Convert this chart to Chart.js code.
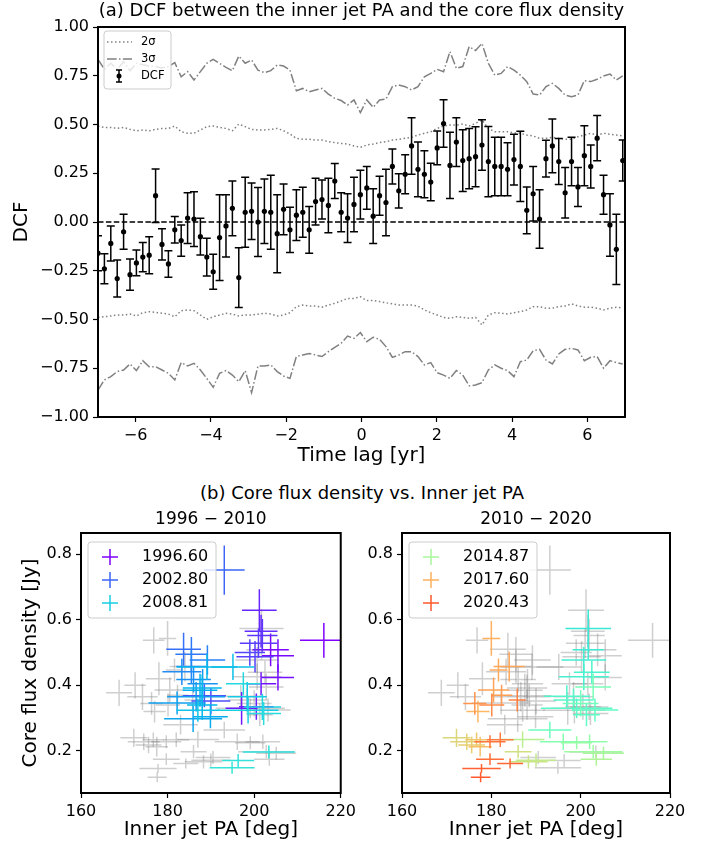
<!DOCTYPE html>
<html>
<head>
<meta charset="utf-8">
<script src="https://cdn.jsdelivr.net/npm/chart.js@4.4.1/dist/chart.umd.min.js"></script>
<style>
  body { margin: 0; background: #fff; }
  #fig { position: relative; width: 711px; height: 845px; font-family: "DejaVu Sans", sans-serif; }
  #fig canvas { position: absolute; }
  #titleB { position: absolute; left: 0; top: 482px; width: 724px; text-align: center; font-size: 18px; line-height: 22px; color: #000; }
</style>
</head>
<body>
<div id="fig">
  <canvas id="dcfChart" width="711" height="470" style="left:0;top:0"></canvas>
  <div id="titleB">(b) Core flux density vs. Inner jet PA</div>
  <canvas id="panelEarly" width="360" height="345" style="left:0;top:500px"></canvas>
  <canvas id="panelLate" width="351" height="345" style="left:360px;top:500px"></canvas>
</div>
<script>
// ───── (a) DCF data ─────
const dcfLag = [
  -7.00,-6.83,-6.66,-6.49,-6.32,-6.15,-5.98,-5.81,-5.64,-5.47,
  -5.30,-5.13,-4.96,-4.79,-4.62,-4.45,-4.28,-4.11,-3.94,-3.77,
  -3.60,-3.43,-3.26,-3.09,-2.92,-2.75,-2.58,-2.41,-2.24,-2.07,
  -1.90,-1.73,-1.56,-1.39,-1.22,-1.05,-0.88,-0.71,-0.54,-0.37,
  -0.20,-0.03,0.14,0.31,0.48,0.65,0.82,0.99,1.16,1.33,
  1.50,1.67,1.84,2.01,2.18,2.35,2.52,2.69,2.86,3.03,
  3.20,3.37,3.54,3.71,3.88,4.05,4.22,4.39,4.56,4.73,
  4.90,5.07,5.24,5.41,5.58,5.75,5.92,6.09,6.26,6.43,
  6.60,6.77,6.94
];
const dcfValue = [
  -0.16,-0.24,-0.11,-0.29,-0.05,-0.27,-0.21,-0.18,-0.17,0.135,
  -0.115,-0.215,-0.04,-0.095,0.02,0.015,-0.075,-0.18,-0.255,-0.08,
  -0.02,0.07,-0.285,0.05,0.055,0.0,0.055,0.05,-0.06,0.065,
  -0.04,0.035,0.05,-0.04,0.105,0.115,0.085,0.21,0.05,0.02,
  0.09,0.14,0.175,0.03,0.135,0.1,0.285,0.16,0.245,0.39,
  0.27,0.245,0.205,0.38,0.505,0.29,0.41,0.315,0.325,0.335,
  0.395,0.31,0.285,0.285,0.27,0.32,0.285,0.06,0.145,0.015,
  0.325,0.39,0.31,0.15,0.31,0.18,0.34,0.285,0.43,0.14,
  -0.015,-0.14,0.315
];
const dcfError = [
  0.09,0.077,0.09,0.095,0.09,0.08,0.066,0.075,0.095,0.137,
  0.08,0.068,0.068,0.08,0.13,0.14,0.094,0.097,0.09,0.22,
  0.16,0.14,0.153,0.18,0.145,0.177,0.165,0.19,0.2,0.13,
  0.116,0.13,0.128,0.12,0.12,0.1,0.14,0.09,0.1,0.125,
  0.14,0.125,0.11,0.14,0.1,0.17,0.09,0.088,0.1,0.145,
  0.14,0.12,0.096,0.087,0.122,0.17,0.125,0.158,0.154,0.154,
  0.13,0.18,0.15,0.15,0.136,0.13,0.18,0.12,0.14,0.15,
  0.094,0.138,0.118,0.13,0.124,0.1,0.154,0.11,0.116,0.1,
  0.16,0.18,0.105
];
const sigma2Upper = [
  0.492,0.485,0.485,0.48,0.485,0.475,0.468,0.472,0.468,0.475,
  0.48,0.48,0.492,0.463,0.455,0.455,0.472,0.489,0.492,0.485,
  0.48,0.468,0.502,0.489,0.475,0.472,0.472,0.475,0.48,0.468,
  0.451,0.429,0.424,0.424,0.42,0.42,0.412,0.407,0.403,0.4,
  0.39,0.383,0.395,0.4,0.407,0.412,0.42,0.424,0.429,0.434,
  0.446,0.455,0.463,0.48,0.492,0.497,0.497,0.502,0.492,0.506,
  0.523,0.48,0.463,0.463,0.463,0.458,0.455,0.446,0.441,0.429,
  0.429,0.434,0.429,0.424,0.424,0.437,0.446,0.455,0.446,0.455,
  0.45,0.446,0.441
];
const sigma2Lower = [
  -0.489,-0.486,-0.482,-0.477,-0.477,-0.472,-0.482,-0.465,-0.46,-0.463,
  -0.468,-0.472,-0.486,-0.455,-0.451,-0.455,-0.477,-0.499,-0.486,-0.477,
  -0.468,-0.472,-0.482,-0.477,-0.477,-0.473,-0.468,-0.472,-0.482,-0.477,
  -0.465,-0.434,-0.426,-0.431,-0.431,-0.437,-0.426,-0.417,-0.405,-0.392,
  -0.392,-0.383,-0.403,-0.403,-0.408,-0.414,-0.42,-0.426,-0.426,-0.426,
  -0.431,-0.451,-0.465,-0.477,-0.489,-0.494,-0.486,-0.489,-0.494,-0.489,
  -0.528,-0.477,-0.465,-0.468,-0.472,-0.465,-0.46,-0.451,-0.434,-0.434,
  -0.442,-0.442,-0.434,-0.431,-0.42,-0.431,-0.437,-0.437,-0.442,-0.451,
  -0.442,-0.437,-0.442
];
const sigma3Upper = [
  0.834,0.783,0.814,0.783,0.822,0.776,0.814,0.806,0.8,0.797,
  0.79,0.797,0.817,0.745,0.771,0.728,0.771,0.814,0.834,0.814,
  0.793,0.776,0.851,0.814,0.831,0.779,0.766,0.776,0.805,0.8,
  0.779,0.673,0.685,0.668,0.677,0.685,0.656,0.634,0.623,0.6,
  0.626,0.561,0.626,0.588,0.626,0.63,0.694,0.703,0.694,0.677,
  0.694,0.745,0.762,0.783,0.771,0.874,0.788,0.797,0.899,0.879,
  0.916,0.814,0.753,0.762,0.797,0.779,0.753,0.72,0.656,0.651,
  0.694,0.711,0.685,0.651,0.643,0.651,0.725,0.72,0.732,0.749,
  0.759,0.728,0.749
];
const sigma3Lower = [
  -0.862,-0.81,-0.793,-0.767,-0.759,-0.728,-0.762,-0.711,-0.742,-0.742,
  -0.759,-0.776,-0.81,-0.721,-0.738,-0.725,-0.759,-0.802,-0.848,-0.776,
  -0.762,-0.785,-0.819,-0.762,-0.875,-0.738,-0.738,-0.733,-0.767,-0.79,
  -0.802,-0.69,-0.682,-0.674,-0.682,-0.69,-0.665,-0.643,-0.622,-0.585,
  -0.597,-0.567,-0.614,-0.591,-0.602,-0.639,-0.694,-0.682,-0.665,-0.665,
  -0.69,-0.733,-0.721,-0.773,-0.785,-0.802,-0.762,-0.785,-0.84,-0.836,
  -0.824,-0.759,-0.733,-0.75,-0.762,-0.793,-0.716,-0.708,-0.66,-0.653,
  -0.708,-0.728,-0.677,-0.653,-0.648,-0.656,-0.711,-0.694,-0.69,-0.75,
  -0.711,-0.721,-0.728
];
const dcfXTicks = [-6, -4, -2, 0, 2, 4, 6];
const dcfYTicks = [-1, -0.75, -0.5, -0.25, 0, 0.25, 0.5, 0.75, 1];

// ───── (b) core flux vs inner jet PA, one row per epoch ─────
const jetEpoch = [
  1996.60,1996.9,1997.2,1997.5,1997.8,1998.1,1998.5,1998.9,1999.3,1999.7,
  2000.1,2000.5,2000.9,2001.4,2002.0,2002.80,2003.3,2003.7,2004.1,2004.4,
  2004.7,2005.0,2005.3,2005.6,2005.9,2006.2,2006.5,2006.8,2007.1,2007.3,
  2007.5,2007.8,2008.1,2008.5,2008.81,2009.1,2009.3,2009.5,2009.7,2009.85,
  2009.95,
  2010.2,2010.4,2010.6,2010.8,2011.0,2011.2,2011.4,2011.6,2011.8,2012.0,
  2012.3,2012.6,2012.9,2013.4,2013.8,2014.1,2014.5,2014.87,2015.1,2015.4,
  2015.7,2015.9,2016.1,2016.4,2016.6,2016.8,2017.0,2017.2,2017.4,2017.60,
  2017.8,2017.95,2018.1,2018.3,2018.6,2018.9,2019.2,2019.4,2019.6,2019.8,
  2020.0,2020.2,2020.43,
  2021.0,2021.3,2021.6,2021.9,2022.2,2022.5,2022.8
];
const jetPA = [
  216.1,203.8,205.5,205.5,201.6,197.1,200.5,201.2,201.6,201.9,
  201.0,200.2,199.0,190.0,188.5,193.1,183.7,185.5,189.2,185.5,
  183.3,186.0,188.1,186.6,182.2,185.9,189.9,187.5,188.0,188.0,
  189.1,195.1,187.0,198.4,198.6,201.9,197.5,202.2,203.4,196.3,
  194.9,
  201.7,201.7,200.7,200.7,202.5,196.9,198.4,199.1,201.3,203.2,
  193.1,200.0,202.8,196.1,202.0,199.1,202.8,205.1,203.5,187.0,
  190.0,188.3,186.0,172.2,174.5,175.6,176.7,177.5,177.0,180.0,
  181.6,184.0,180.5,182.3,176.3,180.1,185.8,182.0,179.7,179.7,
  184.2,177.8,177.6,
  168.8,172.5,174.2,176.8,178.0,183.0,190.5
];
const jetPAErr = [
  5.5,4.2,3.7,3.7,3.5,3.7,4.0,4.0,3.8,3.5,
  4.3,4.3,3.5,4.5,5.0,4.7,4.0,3.7,4.1,3.5,
  4.5,4.0,3.5,6.7,6.6,6.7,4.0,4.0,3.5,4.5,
  7.0,5.0,5.0,4.5,7.0,4.3,4.0,4.0,6.0,3.7,
  5.2,
  5.1,3.5,5.0,5.6,4.0,5.2,4.5,8.0,3.0,5.2,
  4.8,4.0,4.0,5.2,4.0,3.5,6.5,4.6,3.5,4.9,
  4.5,4.3,3.0,3.1,3.7,3.0,2.5,2.6,2.6,2.0,
  2.0,3.5,3.5,2.4,2.6,2.8,1.9,3.0,3.5,3.1,
  2.9,4.3,2.2,
  3.0,2.5,3.5,2.5,3.0,4.0,4.0
];
const coreFlux = [
  0.537,0.508,0.490,0.424,0.405,0.330,0.335,0.629,0.565,0.552,
  0.528,0.487,0.500,0.352,0.368,0.751,0.510,0.495,0.477,0.457,
  0.441,0.418,0.405,0.365,0.346,0.298,0.304,0.385,0.340,0.392,
  0.456,0.456,0.324,0.365,0.324,0.334,0.405,0.314,0.197,0.171,
  0.149,
  0.573,0.508,0.477,0.426,0.440,0.367,0.355,0.330,0.310,0.325,
  0.264,0.345,0.395,0.228,0.228,0.225,0.198,0.193,0.175,0.235,
  0.172,0.167,0.198,0.240,0.228,0.218,0.234,0.213,0.320,0.543,
  0.447,0.457,0.386,0.370,0.345,0.340,0.355,0.234,0.228,0.175,
  0.162,0.147,0.120,
  0.377,0.400,0.365,0.537,0.420,0.280,0.180
];
const coreFluxErr = [
  0.053,0.05,0.05,0.04,0.035,0.05,0.04,0.064,0.05,0.05,
  0.045,0.048,0.04,0.04,0.035,0.075,0.05,0.052,0.045,0.05,
  0.04,0.04,0.045,0.045,0.035,0.04,0.035,0.05,0.045,0.04,
  0.04,0.04,0.035,0.045,0.04,0.04,0.035,0.035,0.02,0.02,
  0.018,
  0.058,0.03,0.04,0.04,0.035,0.033,0.035,0.03,0.035,0.035,
  0.025,0.04,0.04,0.025,0.022,0.02,0.02,0.02,0.02,0.025,
  0.02,0.02,0.02,0.028,0.025,0.025,0.022,0.03,0.033,0.053,
  0.035,0.045,0.038,0.032,0.035,0.035,0.035,0.022,0.02,0.018,
  0.015,0.013,0.015,
  0.04,0.04,0.04,0.04,0.05,0.03,0.02
];
const periodEarly = [1996, 2010];
const periodLate = [2010, 2020.5];
const legendEpochEarly = [1996.60, 2002.80, 2008.81];
const legendEpochLate = [2014.87, 2017.60, 2020.43];
const fluxXTicks = [160, 180, 200, 220];
const fluxYTicks = [0.2, 0.4, 0.6, 0.8];

// epoch -> position in the rainbow colour map (observation index based)
const cmapEpochs = [1996.6, 2002.8, 2008.81, 2014.87, 2017.6, 2020.43, 2022.9];
const cmapPos    = [0, 0.13, 0.30, 0.58, 0.757, 0.886, 1];

Chart.defaults.font.family = "'DejaVu Sans', sans-serif";
Chart.defaults.color = "#000";

function rainbow(t) {
  const r = Math.min(1, Math.abs(2 * t - 0.5));
  const g = Math.sin(Math.PI * t);
  const b = Math.cos(Math.PI * t / 2);
  return `rgb(${Math.round(r * 255)},${Math.round(g * 255)},${Math.round(b * 255)})`;
}

function epochColor(ep) {
  if (ep <= cmapEpochs[0]) return rainbow(0);
  for (let k = 1; k < cmapEpochs.length; k++) {
    if (ep <= cmapEpochs[k]) {
      const f = (ep - cmapEpochs[k - 1]) / (cmapEpochs[k] - cmapEpochs[k - 1]);
      return rainbow(cmapPos[k - 1] + f * (cmapPos[k] - cmapPos[k - 1]));
    }
  }
  return rainbow(1);
}

const fmtMinus = s => String(s).replace("-", "\u2212");

function roundRect(ctx, x, y, w, h, r) {
  ctx.beginPath();
  ctx.moveTo(x + r, y);
  ctx.arcTo(x + w, y, x + w, y + h, r);
  ctx.arcTo(x + w, y + h, x, y + h, r);
  ctx.arcTo(x, y + h, x, y, r);
  ctx.arcTo(x, y, x + w, y, r);
  ctx.closePath();
}

// ───── plugins ─────
const framePlugin = {
  id: "frame",
  afterDraw(chart) {
    const { ctx, chartArea: a } = chart;
    ctx.save();
    ctx.strokeStyle = "#000";
    ctx.lineWidth = 2;
    ctx.strokeRect(a.left, a.top, a.right - a.left, a.bottom - a.top);
    ctx.restore();
  }
};

const errorBarPlugin = {
  id: "errorBars",
  beforeDatasetDraw(chart, args) {
    const ds = chart.data.datasets[args.index];
    if (!ds.yErr) return;
    const { ctx, chartArea: a, scales: { x, y } } = chart;
    ctx.save();
    ctx.beginPath();
    ctx.rect(a.left, a.top, a.right - a.left, a.bottom - a.top);
    ctx.clip();
    ctx.strokeStyle = "#000";
    ctx.lineWidth = 1.5;
    ds.data.forEach((p, i) => {
      const px = x.getPixelForValue(p.x);
      const lo = y.getPixelForValue(p.y - ds.yErr[i]);
      const hi = y.getPixelForValue(p.y + ds.yErr[i]);
      ctx.beginPath();
      ctx.moveTo(px, lo); ctx.lineTo(px, hi);
      ctx.moveTo(px - 4, lo); ctx.lineTo(px + 4, lo);
      ctx.moveTo(px - 4, hi); ctx.lineTo(px + 4, hi);
      ctx.stroke();
    });
    ctx.restore();
  }
};

const dcfLegendPlugin = {
  id: "dcfLegend",
  afterDraw(chart) {
    const { ctx, chartArea: a } = chart;
    const bx = a.left + 6, by = a.top + 4;
    ctx.save();
    roundRect(ctx, bx, by, 67, 58, 3);
    ctx.fillStyle = "rgba(255,255,255,0.8)";
    ctx.fill();
    ctx.strokeStyle = "#cccccc";
    ctx.lineWidth = 1;
    ctx.stroke();

    ctx.strokeStyle = "gray";
    ctx.lineWidth = 1.5;
    ctx.setLineDash([1.5, 2.5]);
    ctx.beginPath(); ctx.moveTo(bx + 3, by + 11); ctx.lineTo(bx + 28, by + 11); ctx.stroke();
    ctx.setLineDash([9.6, 2.4, 1.5, 2.4]);
    ctx.beginPath(); ctx.moveTo(bx + 3, by + 28); ctx.lineTo(bx + 28, by + 28); ctx.stroke();
    ctx.setLineDash([]);

    const ex = bx + 15, ey = by + 45;
    ctx.strokeStyle = "#000";
    ctx.beginPath();
    ctx.moveTo(ex, ey - 6); ctx.lineTo(ex, ey + 6);
    ctx.moveTo(ex - 3, ey - 6); ctx.lineTo(ex + 3, ey - 6);
    ctx.moveTo(ex - 3, ey + 6); ctx.lineTo(ex + 3, ey + 6);
    ctx.stroke();
    ctx.fillStyle = "#000";
    ctx.beginPath(); ctx.arc(ex, ey, 2.5, 0, Math.PI * 2); ctx.fill();

    ctx.font = "11.5px 'DejaVu Sans'";
    ctx.textBaseline = "middle";
    ctx.fillText("2\u03c3", bx + 37, by + 11);
    ctx.fillText("3\u03c3", bx + 37, by + 28);
    ctx.fillText("DCF", bx + 37, by + 45);
    ctx.restore();
  }
};

const crossPlugin = {
  id: "crosses",
  afterDatasetsDraw(chart) {
    const { ctx, chartArea: a, scales: { x, y } } = chart;
    ctx.save();
    ctx.beginPath();
    ctx.rect(a.left, a.top, a.right - a.left, a.bottom - a.top);
    ctx.clip();
    ctx.lineWidth = 1.5;
    chart.data.datasets.forEach(ds => {
      ds.data.forEach((p, i) => {
        const px = x.getPixelForValue(p.x), py = y.getPixelForValue(p.y);
        ctx.strokeStyle = ds.crossColors[i];
        ctx.beginPath();
        ctx.moveTo(x.getPixelForValue(p.x - ds.xErr[i]), py);
        ctx.lineTo(x.getPixelForValue(p.x + ds.xErr[i]), py);
        ctx.moveTo(px, y.getPixelForValue(p.y - ds.yErr[i]));
        ctx.lineTo(px, y.getPixelForValue(p.y + ds.yErr[i]));
        ctx.stroke();
      });
    });
    ctx.restore();
  }
};

function epochLegendPlugin(epochs) {
  return {
    id: "epochLegend",
    afterDraw(chart) {
      const { ctx, chartArea: a } = chart;
      const bx = a.left + 7, by = a.top + 9;
      ctx.save();
      roundRect(ctx, bx, by, 128, 76, 3);
      ctx.fillStyle = "rgba(255,255,255,0.8)";
      ctx.fill();
      ctx.strokeStyle = "#cccccc";
      ctx.lineWidth = 1;
      ctx.stroke();
      ctx.font = "16px 'DejaVu Sans'";
      ctx.textBaseline = "middle";
      ctx.lineWidth = 1.5;
      epochs.forEach((ep, k) => {
        const cy = by + 15 + k * 23, cx = bx + 22;
        ctx.strokeStyle = epochColor(ep);
        ctx.beginPath();
        ctx.moveTo(cx - 8, cy); ctx.lineTo(cx + 8, cy);
        ctx.moveTo(cx, cy - 8); ctx.lineTo(cx, cy + 8);
        ctx.stroke();
        ctx.fillStyle = "#000";
        ctx.fillText(ep.toFixed(2), bx + 54, cy);
      });
      ctx.restore();
    }
  };
}

// ───── (a) DCF chart ─────
const toPoints = (xs, ys) => xs.map((v, i) => ({ x: v, y: ys[i] }));
const sigmaLine = (ys, dash) => ({
  data: toPoints(dcfLag, ys), showLine: true, borderColor: "gray", borderWidth: 1.5,
  borderDash: dash, pointRadius: 0, order: 2
});

new Chart(document.getElementById("dcfChart"), {
  type: "scatter",
  data: {
    datasets: [
      { data: toPoints(dcfLag, dcfValue), yErr: dcfError, pointRadius: 2.6,
        backgroundColor: "#000", borderWidth: 0, order: 0 },
      { data: [{ x: -7, y: 0 }, { x: 7, y: 0 }], showLine: true, borderColor: "#000",
        borderWidth: 1.5, borderDash: [5.5, 2.4], pointRadius: 0, order: 1 },
      sigmaLine(sigma2Upper, [1.5, 2.5]),
      sigmaLine(sigma2Lower, [1.5, 2.5]),
      sigmaLine(sigma3Upper, [9.6, 2.4, 1.5, 2.4]),
      sigmaLine(sigma3Lower, [9.6, 2.4, 1.5, 2.4])
    ]
  },
  options: {
    responsive: false, animation: false, events: [],
    layout: { padding: { left: 0, right: 86, top: 0, bottom: 0 } },
    plugins: {
      legend: { display: false }, tooltip: { enabled: false },
      title: { display: true, fullSize: false,
        text: "(a) DCF between the inner jet PA and the core flux density",
        font: { size: 18, weight: "normal", lineHeight: 1.2 }, padding: { top: 1, bottom: 4.4 }, color: "#000" }
    },
    scales: {
      x: { type: "linear", min: -7, max: 7,
        afterBuildTicks: s => { s.ticks = dcfXTicks.map(v => ({ value: v })); },
        afterFit: s => { s.height = 53; },
        grid: { drawOnChartArea: false, drawTicks: true, tickLength: 5, tickColor: "#000", tickWidth: 1.2 },
        border: { display: false },
        ticks: { font: { size: 16 }, padding: 4, maxRotation: 0, callback: v => fmtMinus(v) },
        title: { display: true, text: "Time lag [yr]", font: { size: 20 }, padding: { top: 0, bottom: 2 } } },
      y: { min: -1, max: 1,
        afterBuildTicks: s => { s.ticks = dcfYTicks.map(v => ({ value: v })); },
        afterFit: s => { s.width = 98; },
        grid: { drawOnChartArea: false, drawTicks: true, tickLength: 5, tickColor: "#000", tickWidth: 1.2 },
        border: { display: false },
        ticks: { font: { size: 16 }, padding: 4, callback: v => fmtMinus(v.toFixed(2)) },
        title: { display: true, text: "DCF", font: { size: 20 }, padding: { top: 10, bottom: 0 } } }
    }
  },
  plugins: [errorBarPlugin, framePlugin, dcfLegendPlugin]
});

// ───── (b) flux–PA panels ─────
function panelDatasets(period) {
  const gray = { data: [], xErr: [], yErr: [], crossColors: [], pointRadius: 0 };
  const col  = { data: [], xErr: [], yErr: [], crossColors: [], pointRadius: 0 };
  jetEpoch.forEach((ep, i) => {
    const inside = ep >= period[0] && ep < period[1];
    const ds = inside ? col : gray;
    ds.data.push({ x: jetPA[i], y: coreFlux[i] });
    ds.xErr.push(jetPAErr[i]);
    ds.yErr.push(coreFluxErr[i]);
    ds.crossColors.push(inside ? epochColor(ep) : "rgba(128,128,128,0.38)");
  });
  return [gray, col];
}

function makePanel(id, period, legendEpochs, title, yAxisWidth, rightPad, showYTitle) {
  new Chart(document.getElementById(id), {
    type: "scatter",
    data: { datasets: panelDatasets(period) },
    options: {
      responsive: false, animation: false, events: [],
      layout: { padding: { left: 0, right: rightPad, top: 0, bottom: 0 } },
      plugins: {
        legend: { display: false }, tooltip: { enabled: false },
        title: { display: true, fullSize: false, text: title,
          font: { size: 17, weight: "normal", lineHeight: 1.2 }, padding: { top: 9, bottom: 3.6 }, color: "#000" }
      },
      scales: {
        x: { type: "linear", min: 160, max: 220,
          afterBuildTicks: s => { s.ticks = fluxXTicks.map(v => ({ value: v })); },
          afterFit: s => { s.height = 52; },
          grid: { drawOnChartArea: false, drawTicks: true, tickLength: 5, tickColor: "#000", tickWidth: 1.2 },
          border: { display: false },
          ticks: { font: { size: 16 }, padding: 4, maxRotation: 0, callback: v => String(v) },
          title: { display: true, text: "Inner jet PA [deg]", font: { size: 20 }, padding: { top: 0, bottom: 3 } } },
        y: { min: 0.072, max: 0.864,
          afterBuildTicks: s => { s.ticks = fluxYTicks.map(v => ({ value: v })); },
          afterFit: s => { s.width = yAxisWidth; },
          grid: { drawOnChartArea: false, drawTicks: true, tickLength: 5, tickColor: "#000", tickWidth: 1.2 },
          border: { display: false },
          ticks: { font: { size: 16 }, padding: 4, callback: v => v.toFixed(1) },
          title: { display: showYTitle, text: "Core flux density [Jy]", font: { size: 20 }, padding: { top: 19, bottom: 0 } } }
      }
    },
    plugins: [crossPlugin, framePlugin, epochLegendPlugin(legendEpochs)]
  });
}

makePanel("panelEarly", periodEarly, legendEpochEarly, "1996 \u2212 2010", 81, 11, true);
makePanel("panelLate", periodLate, legendEpochLate, "2010 \u2212 2020", 42, 41, false);
</script>
</body>
</html>
